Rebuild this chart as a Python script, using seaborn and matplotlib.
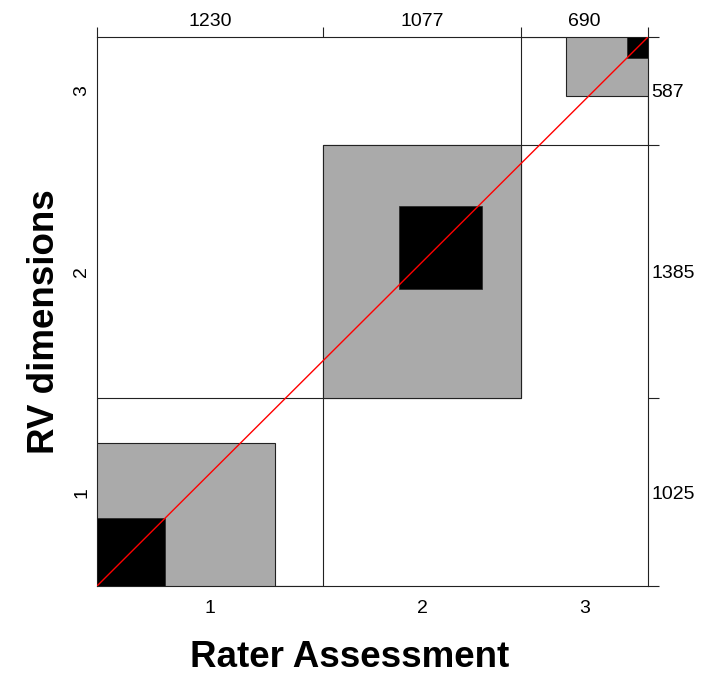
import numpy as np
import pandas as pd
import matplotlib
matplotlib.use("Agg")
import matplotlib.pyplot as plt
from matplotlib.patches import Rectangle
from matplotlib.ticker import FixedLocator, NullFormatter, FixedFormatter
import seaborn as sns

# ---- data: contingency table (rows = RV dimensions, cols = Rater Assessment)
categories = ["1", "2", "3"]
rv_1 = [372, 410, 243]
rv_2 = [595, 455, 335]
rv_3 = [263, 212, 112]
partial_band = 1  # partial agreement: |i - j| <= 1

tab = np.array([rv_1, rv_2, rv_3])
col_tot = tab.sum(axis=0)
row_tot = tab.sum(axis=1)
N = tab.sum()
col_cum = np.concatenate([[0], np.cumsum(col_tot)])
row_cum = np.concatenate([[0], np.cumsum(row_tot)])

sns.set_theme(style="white")
plt.rcParams["font.family"] = ["Liberation Sans", "DejaVu Sans"]
plt.rcParams["text.color"] = "black"
plt.rcParams["xtick.color"] = "black"
plt.rcParams["ytick.color"] = "black"

W, H = 701, 675
fig = plt.figure(figsize=(W / 100, H / 100), dpi=100)
ax = fig.add_axes([97 / W, (H - 586) / H, (648 - 97) / W, (586 - 37) / H])
ax.set_xlim(0, N)
ax.set_ylim(0, N)

edge = "#222222"
lw = 0.8
k = len(categories)
for i in range(k):
    # total rectangle
    ax.add_patch(Rectangle((col_cum[i], row_cum[i]), col_tot[i], row_tot[i],
                           fill=False, edgecolor=edge, lw=lw, zorder=2))
    lo, hi = max(0, i - partial_band), min(k - 1, i + partial_band)
    # partial agreement (grey)
    gx0 = col_cum[i] + tab[:lo, i].sum()
    gw = tab[lo:hi + 1, i].sum()
    gy0 = row_cum[i] + tab[i, :lo].sum()
    gh = tab[i, lo:hi + 1].sum()
    ax.add_patch(Rectangle((gx0, gy0), gw, gh, facecolor="#aaaaaa",
                           edgecolor=edge, lw=lw, zorder=3))
    # exact agreement (black)
    bx0 = col_cum[i] + tab[:i, i].sum()
    by0 = row_cum[i] + tab[i, :i].sum()
    ax.add_patch(Rectangle((bx0, by0), tab[i, i], tab[i, i], facecolor="black",
                           edgecolor=edge, lw=0.5, zorder=4))

diag = pd.DataFrame({"x": [0, N], "y": [0, N]})
sns.lineplot(data=diag, x="x", y="y", color="red", lw=1.0, ax=ax, zorder=5)
ax.set_xlabel("")
ax.set_ylabel("")

for s in ax.spines.values():
    s.set_visible(True)
    s.set_color(edge)
    s.set_linewidth(lw)

tick_fs = 14
col_mid = (col_cum[:-1] + col_cum[1:]) / 2
row_mid = (row_cum[:-1] + row_cum[1:]) / 2

ax.set_xticks(col_mid)
ax.set_xticklabels(categories, fontsize=tick_fs)
ax.set_yticks(row_mid)
ax.set_yticklabels(categories, fontsize=tick_fs, rotation=90, va="center")
ax.tick_params(axis="x", length=0, pad=10, colors="black")
ax.tick_params(axis="y", length=0, pad=5, colors="black")

# top axis: marginal totals of Rater Assessment
axt = ax.twiny()
axt.set_xlim(0, N)
axt.xaxis.set_major_locator(FixedLocator(col_cum))
axt.xaxis.set_major_formatter(NullFormatter())
axt.xaxis.set_minor_locator(FixedLocator(col_mid))
axt.xaxis.set_minor_formatter(FixedFormatter([str(v) for v in col_tot]))
axt.tick_params(axis="x", which="major", direction="out", length=7.5, width=lw, color=edge)
axt.tick_params(axis="x", which="minor", length=0, pad=5, labelsize=tick_fs, labelcolor="black")
for s in axt.spines.values():
    s.set_visible(False)

# right axis: marginal totals of RV dimensions
axr = ax.twinx()
axr.set_ylim(0, N)
axr.yaxis.set_major_locator(FixedLocator(row_cum))
axr.yaxis.set_major_formatter(NullFormatter())
axr.yaxis.set_minor_locator(FixedLocator(row_mid))
axr.yaxis.set_minor_formatter(FixedFormatter([str(v) for v in row_tot]))
axr.tick_params(axis="y", which="major", direction="out", length=8, width=lw, color=edge)
axr.tick_params(axis="y", which="minor", length=0, pad=2.5, labelsize=tick_fs, labelcolor="black")
for s in axr.spines.values():
    s.set_visible(False)

fig.text(350 / W, (H - 667) / H, "Rater Assessment", ha="center", va="baseline",
         fontsize=26.5, fontweight="bold", color="black")
fig.text(54 / W, (H - 322) / H, "RV dimensions", ha="center", va="baseline",
         rotation=90, rotation_mode="anchor", fontsize=26.5, fontweight="bold",
         color="black")

fig.savefig("out.png", dpi=100)
